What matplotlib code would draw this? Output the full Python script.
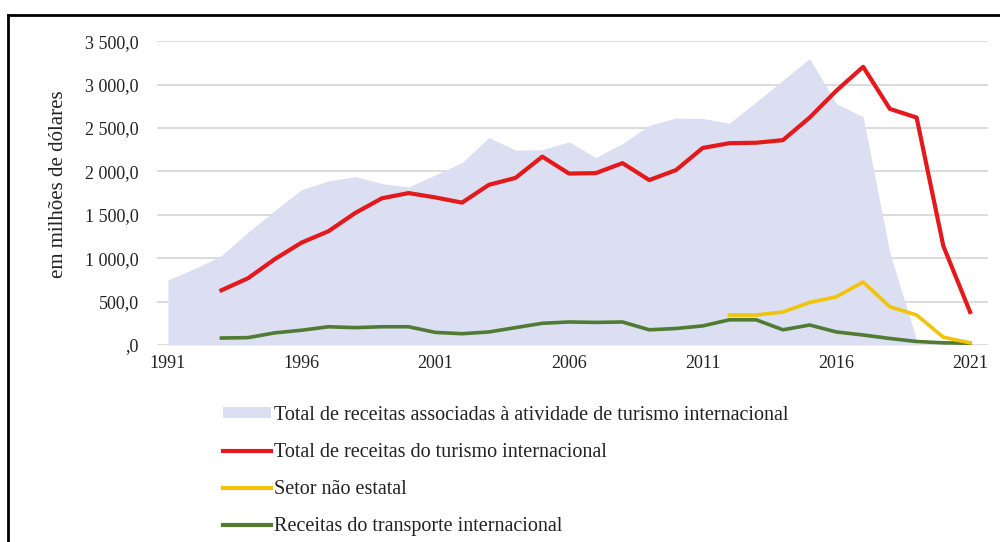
import matplotlib
matplotlib.use("Agg")
import matplotlib.pyplot as plt
from matplotlib.lines import Line2D
from matplotlib.ticker import FuncFormatter
import numpy as np

plt.rcParams['font.family'] = ['Liberation Serif', 'DejaVu Serif']

# receitas associadas (area), 1991-2019
area_years = list(range(1991, 2020))
area_total = [750, 880, 1030, 1300, 1550, 1790, 1890, 1940, 1860, 1820,
              1960, 2100, 2390, 2245, 2250, 2340, 2160, 2320, 2530, 2615,
              2610, 2555, 2800, 3050, 3300, 2780, 2630, 1060, 60]

# series de linhas, 1993-2021
line_years = list(range(1993, 2022))
turismo = [630, 770, 990, 1180, 1310, 1520, 1690, 1750, 1700, 1640,
           1845, 1925, 2170, 1975, 1980, 2095, 1900, 2015, 2270, 2325,
           2330, 2360, 2620, 2930, 3205, 2720, 2620, 1140, 380]
transporte = [80, 85, 140, 170, 210, 200, 210, 210, 145, 130,
              150, 200, 250, 265, 260, 265, 175, 190, 220, 290,
              290, 175, 230, 150, 115, 75, 40, 25, 20]

nao_estatal_years = list(range(2012, 2022))
nao_estatal = [345, 345, 380, 490, 555, 725, 440, 345, 90, 25]

yticks = [0, 500, 1000, 1500, 2000, 2500, 3000, 3500]
xticks = [1991, 1996, 2001, 2006, 2011, 2016, 2021]

labels = ['Total de receitas associadas à atividade de turismo internacional',
          'Total de receitas do turismo internacional',
          'Setor não estatal',
          'Receitas do transporte internacional']

c_area = '#dcdef1'
c_red = '#e3191b'
c_yel = '#f1c40a'
c_grn = '#4f7b33'


def fmt(v, pos):
    if v == 0:
        return ',0'
    s = f'{v:,.1f}'
    return s.replace(',', ' ').replace('.', ',')


fig = plt.figure(figsize=(10, 5.42), dpi=100)
ax = fig.add_axes([0.157, 0.3635, 0.831, 0.5605])

ax.fill_between(area_years, area_total, 0, color=c_area, lw=0, zorder=2)
ax.plot(line_years, transporte, color=c_grn, lw=2.6, zorder=3)
ax.plot(nao_estatal_years, nao_estatal, color=c_yel, lw=2.6, zorder=4)
ax.plot(line_years, turismo, color=c_red, lw=3.0, zorder=5)

ax.set_xlim(1990.59, 2021.67)
ax.set_ylim(0, 3500)
ax.set_yticks(yticks)
ax.set_xticks(xticks)
ax.yaxis.set_major_formatter(FuncFormatter(fmt))
ax.grid(axis='y', color='#d9d9d9', lw=1.3, zorder=1)
ax.set_axisbelow(True)
for sp in ax.spines.values():
    sp.set_visible(False)
ax.tick_params(axis='both', length=0, labelsize=13, colors='#222222')
ax.tick_params(axis='y', pad=13)
ax.tick_params(axis='x', pad=7)

ax.set_ylabel('em milhões de dólares', fontsize=15, color='#222222')
ax.yaxis.set_label_coords(-0.107, 0.53)

handles = [plt.Rectangle((0, 0), 1, 1, color=c_area, lw=0),
           Line2D([], [], color=c_red, lw=3),
           Line2D([], [], color=c_yel, lw=3),
           Line2D([], [], color=c_grn, lw=3)]
fig.legend(handles, labels, loc='upper left', bbox_to_anchor=(0.213, 0.27),
           frameon=False, fontsize=14.5, handlelength=2.4, handleheight=0.4,
           handletextpad=0.15, labelspacing=0.9, borderpad=0,
           labelcolor='#222222')

# moldura
fig.add_artist(Line2D([0.008, 1.0], [0.9723, 0.9723], color='black', lw=2,
                      transform=fig.transFigure))
fig.add_artist(Line2D([0.008, 0.008], [0.0, 0.9723], color='black', lw=2,
                      transform=fig.transFigure))

fig.savefig('out.png', dpi=100)
